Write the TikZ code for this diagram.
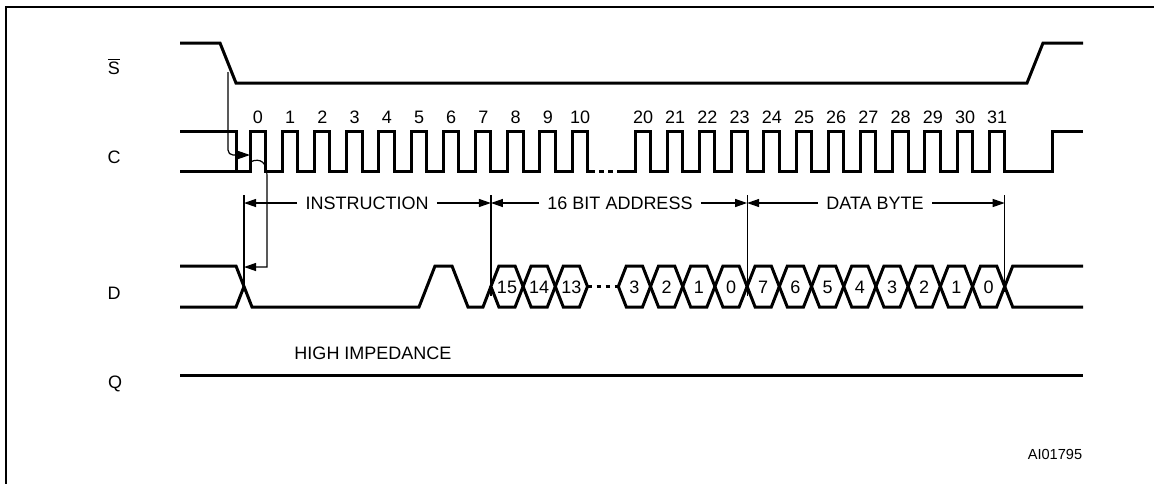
\documentclass[tikz,border=0pt]{standalone}
\usepackage{fontspec}
\setmainfont{Liberation Sans}
\usetikzlibrary{arrows.meta}
\begin{document}
\begin{tikzpicture}[x=0.5pt,y=-0.5pt,
  sig/.style={line width=1.5pt,line join=miter,line cap=butt},
  thinl/.style={line width=0.6pt},
  frm/.style={line width=1.2pt},
  lab/.style={font=\fontsize{9}{10.8}\selectfont,inner sep=0pt,anchor=base},
  dimlab/.style={font=\fontsize{9}{10.8}\selectfont,inner xsep=4pt,inner ysep=0pt,anchor=base},
  tip/.style={thinl,-{Triangle[length=6pt,width=4pt]}},
]
\useasboundingbox (0,0) rectangle (1154,483);
\begin{scope}
  \clip (0,0) rectangle (1154,483);
  \draw[frm] (6,7) rectangle (1175,505);
\end{scope}

% signal names
\node[lab] (nS) at (114,74.5) {$\overline{\mbox{S}}$};
\node[lab] (nC) at (114,163.5) {C};
\node[lab] (nD) at (114,299.5) {D};
\node[lab] (nQ) at (115,388) {Q};

% S
\draw[sig] (180,43) -- (220,43) -- (236,83) -- (1027,83) -- (1043,43) -- (1083,43);

% C
\draw[sig] (180,131) -- (236,131) -- (236,171);
\draw[sig] (180,171) \foreach \k in {0,...,10}{ -- ({250+32.2*\k},171) -- ({250+32.2*\k},131) -- ({265.5+32.2*\k},131) -- ({265.5+32.2*\k},171)} -- (590,171);
\draw[sig,dash pattern=on 2.5pt off 2pt] (590,171) -- (620,171);
\draw[sig] (620,171) \foreach \k in {0,...,11}{ -- ({635+32.2*\k},171) -- ({635+32.2*\k},131) -- ({650.5+32.2*\k},131) -- ({650.5+32.2*\k},171)} -- (1052,171) -- (1052,131) -- (1083,131);
\foreach \k in {0,...,10} \node[lab] (c\k) at ({258+32.2*\k},123.5) {\k};
\foreach \k in {20,...,31} \node[lab] (c\k) at ({643+32.2*(\k-20)},123.5) {\k};

% D
\draw[sig] (180,266) -- (236,266) -- (252,307) -- (419,307) -- (435,266) -- (452,266) -- (468,307) -- (483,307) -- (490.9,286.5);
\draw[sig] (180,307) -- (236,307) -- (244,286.5);
\foreach \i/\t in {0/15,1/14,2/13}{
  \draw[sig] ({490.9+32.2*\i},286.5) -- ++(8,-20.5) -- ++(16.2,0) -- ++(8,20.5) -- ++(-8,20.5) -- ++(-16.2,0) -- cycle;
  \node[lab] (ha\i) at ({490.9+32.2*\i+16.1},293) {\t};
}
\draw[sig,dash pattern=on 2pt off 2.5pt] (587.5,286.5) -- (618.3,286.5);
\foreach \i/\t in {0/3,1/2,2/1,3/0,4/7,5/6,6/5,7/4,8/3,9/2,10/1,11/0}{
  \draw[sig] ({618.3+32.2*\i},286.5) -- ++(8,-20.5) -- ++(16.2,0) -- ++(8,20.5) -- ++(-8,20.5) -- ++(-16.2,0) -- cycle;
  \node[lab] (hb\i) at ({618.3+32.2*\i+16.1},293) {\t};
}
\draw[sig] (1004.7,286.5) -- (1012.7,266) -- (1083,266);
\draw[sig] (1004.7,286.5) -- (1012.7,307) -- (1083,307);

% Q
\draw[sig] (180,375) -- (1083,375);
\node[lab] (hiz) at (373,359.5) {HIGH IMPEDANCE};

% dimension lines
\coordinate (e0) at (244,203);
\coordinate (e1) at (490.9,203);
\coordinate (e2) at (747.1,203);
\coordinate (e3) at (1004.7,203);
\draw[thinl] (244,195) -- (244,287);
\draw[thinl] (490.9,195) -- (490.9,296);
\draw[thinl] (747.1,195) -- (747.1,296);
\draw[thinl] (1004.7,195) -- (1004.7,292);

\node[dimlab] (ins) at (367,209.5) {INSTRUCTION};
\node[dimlab] (adr) at (620,209.5) {16 BIT ADDRESS};
\node[dimlab] (dat) at (875,209.5) {DATA BYTE};
\draw[tip] (ins.west |- e0) -- (e0);
\draw[tip] (ins.east |- e1) -- (e1);
\draw[tip] (adr.west |- e1) -- (e1);
\draw[tip] (adr.east |- e2) -- (e2);
\draw[tip] (dat.west |- e2) -- (e2);
\draw[tip] (dat.east |- e3) -- (e3);

% timing connectors
\coordinate (sfall) at (228,72);
\coordinate (clk0) at (250,155);
\coordinate (clk0b) at (250,162);
\coordinate (dx) at (244,267);
\draw[tip,rounded corners=2.5pt] (sfall) -- (228,155) -- (clk0);
\draw[tip] (clk0b) .. controls (261,157) and (267,163) .. (267,176) -- (267,267) -- (dx);

\node[font=\fontsize{7.3}{8.5}\selectfont,anchor=base,inner sep=0pt] (id) at (1055,459) {AI01795};
\end{tikzpicture}
\end{document}
